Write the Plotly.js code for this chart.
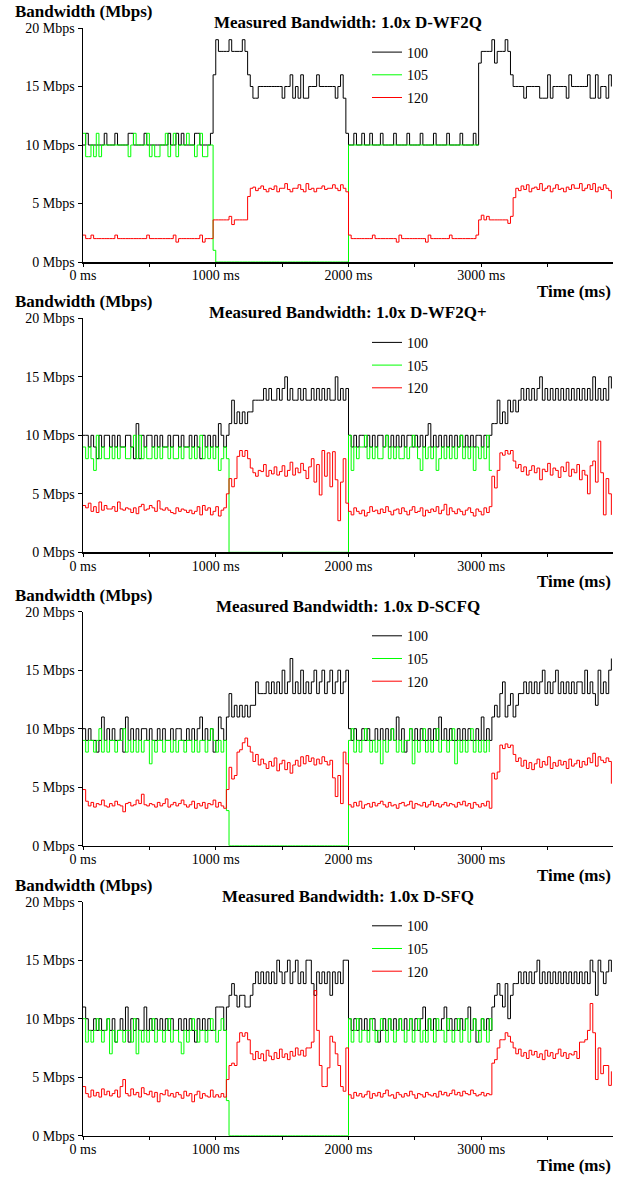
<!DOCTYPE html>
<html><head><meta charset="utf-8">
<script src="https://cdn.plot.ly/plotly-3.0.1.min.js"></script>
<style>html,body{margin:0;padding:0;background:#fff;} #chart{width:629px;height:1178px;}</style>
</head><body><div id="chart"></div>
<script>
// ---------------- data ----------------
const sampleIntervalMs = 20;
const flowNames = ['100', '105', '120'];
const panelTitles = [
  'Measured Bandwidth: 1.0x D-WF2Q',
  'Measured Bandwidth: 1.0x D-WF2Q+',
  'Measured Bandwidth: 1.0x D-SCFQ',
  'Measured Bandwidth: 1.0x D-SFQ'
];
const xTickValues = [0, 1000, 2000, 3000];
const xTickLabels = ['0 ms', '1000 ms', '2000 ms', '3000 ms'];
const xTickMarkValues = [0, 500, 1000, 1500, 2000, 2500, 3000, 3500];
const yTickValues = [0, 5, 10, 15, 20];
const yTickLabels = ['0 Mbps', '5 Mbps', '10 Mbps', '15 Mbps', '20 Mbps'];

// D-WF2Q
const wf2q_100 = [
  10,11,10,10,10,10,10,10,11,10, 10,10,11,10,10,10,10,11,11,10,
  10,10,10,11,10,10,10,10,10,10, 10,10,11,10,10,11,10,11,10,10,
  10,10,11,11,10,10,10,10,11,16, 19,18,18,18,18,19,18,18,18,18,
  19,18,16,15,14,14,15,15,15,15, 15,15,15,15,15,14,15,15,16,14,
  15,14,16,14,14,15,15,15,16,15, 15,15,15,15,15,14,15,16,14,11,
  10,10,11,10,10,11,10,10,11,10, 10,10,11,10,10,10,10,11,10,10,
  10,10,11,10,10,10,10,11,10,10, 10,10,11,10,10,10,10,11,10,10,
  10,10,11,10,10,10,10,11,10,17, 18,18,18,18,19,17,18,18,18,19,
  18,16,15,15,15,15,14,15,15,15, 15,15,14,14,14,16,14,15,15,15,
  15,15,14,16,15,15,15,15,15,15, 16,14,14,16,14,15,15,14,16,15
];
const wf2q_105 = [
  11,9,9,10,9,11,9,10,10,10, 10,10,10,10,10,10,10,9,10,11,
  10,10,10,10,11,9,10,9,9,10, 10,11,9,10,11,9,10,10,10,11,
  10,10,9,10,11,9,9,10,10,1, 0,0,0,0,0,0,0,0,0,0,
  0,0,0,0,0,0,0,0,0,0, 0,0,0,0,0,0,0,0,0,0,
  0,0,0,0,0,0,0,0,0,0, 0,0,0,0,0,0,0,0,0,0,
  10,10,10,10,10,10,10,10,10,10, 10,10,10,10,10,10,10,10,10,10,
  10,10,10,10,10,10,10,10,10,10, 10,10,10,10,10,10,10,10,10,10,
  10,10,10,10,10,10,10,10,10,10
];
const wf2q_120 = [
  2.3,2.0,2.0,2.3,2.0,2.0,2.0,2.0,2.0,2.0, 2.0,2.0,2.3,2.0,2.0,2.0,2.0,2.0,2.0,2.0,
  2.0,2.0,2.0,2.0,2.3,2.0,2.0,2.0,2.0,2.0, 2.0,2.0,2.0,2.0,2.3,1.7,2.0,2.0,2.0,2.0,
  2.0,2.0,2.0,2.0,2.3,1.7,2.0,2.0,2.0,3.6, 3.6,3.6,3.6,3.6,3.6,3.9,3.2,3.6,3.6,3.6,
  3.6,3.6,5.6,6.3,6.4,6.1,6.3,6.5,6.2,6.0, 6.3,6.2,6.5,6.0,6.3,6.3,6.7,6.2,6.0,6.3,
  6.3,6.6,6.2,6.0,6.7,6.2,6.3,6.0,6.3,6.3, 6.5,6.2,6.3,6.3,6.6,6.3,6.1,6.6,6.3,6.0,
  2.3,2.0,2.0,2.0,2.0,2.0,2.0,2.0,2.0,2.3, 2.0,2.0,2.0,2.0,2.0,2.0,2.0,2.0,1.7,2.3,
  2.0,2.0,2.0,2.0,2.0,2.0,2.0,2.0,2.0,1.7, 2.3,2.0,2.0,2.0,2.0,2.0,2.0,2.0,2.3,2.0,
  2.0,2.0,2.0,2.0,2.0,2.0,2.0,2.0,2.3,3.6, 4.0,3.6,3.9,3.6,3.6,3.6,3.6,3.6,3.6,3.6,
  3.3,3.9,5.5,6.3,6.1,6.5,6.2,6.6,6.0,6.3, 6.4,6.2,6.7,6.1,6.3,6.5,6.0,6.3,6.6,6.2,
  6.3,6.0,6.4,6.2,6.6,6.3,6.3,6.7,6.1,6.3, 6.6,6.2,6.7,6.0,6.4,6.2,6.6,6.3,6.1,5.4
];

// D-WF2Q+
const wf2qplus_100 = [
  10,10,9,10,9,8,10,9,10,10, 9,10,9,10,9,9,10,10,9,8,
  11,8,10,9,10,10,9,10,9,10, 9,9,10,9,10,10,9,10,9,9,
  10,9,10,9,8,10,9,10,9,10, 9,11,10,9,10,11,13,11,12,11,
  12,11,12,12,13,13,13,13,14,13, 14,13,13,14,13,14,15,13,14,13,
  13,14,13,14,13,13,14,13,14,13, 14,13,14,13,13,15,13,14,13,14,
  10,9,10,9,10,10,9,10,9,10, 9,10,10,9,10,9,10,9,10,9,
  10,9,10,10,9,10,9,10,9,10, 11,9,10,9,10,9,10,9,10,9,
  10,9,10,9,10,9,10,9,10,10, 9,10,9,10,11,11,13,11,12,11,
  13,12,13,12,13,14,13,14,13,14, 13,14,15,13,14,13,14,13,14,13,
  14,13,14,13,14,13,14,13,14,13, 14,13,15,13,14,13,14,13,15,14
];
const wf2qplus_105 = [
  9,8,9,8,7,10,8,9,8,8, 9,8,9,8,9,9,8,8,9,10,
  8,10,8,9,8,8,9,8,9,8, 9,9,8,9,8,8,9,8,9,9,
  8,9,8,9,10,8,9,8,9,8, 9,7,8,9,8,0,0,0,0,0,
  0,0,0,0,0,0,0,0,0,0, 0,0,0,0,0,0,0,0,0,0,
  0,0,0,0,0,0,0,0,0,0, 0,0,0,0,0,0,0,0,0,0,
  10,7,9,8,9,9,10,8,9,8, 9,8,8,9,10,8,9,8,9,8,
  8,9,8,9,10,9,8,7,9,8, 9,8,9,7,8,9,8,9,8,9,
  8,9,10,8,9,8,9,7,9,8, 9,8,10,7,7
];
const wf2qplus_120 = [
  4.0,3.8,4.2,3.5,3.9,3.4,4.3,3.6,4.0,3.7, 3.7,3.9,3.5,4.3,3.7,3.6,3.8,3.7,3.4,3.8,
  3.3,3.9,4.1,3.6,3.7,4.0,3.8,3.5,4.4,3.7, 3.6,3.8,3.6,3.4,3.3,3.8,3.5,3.7,3.6,3.4,
  3.6,3.3,3.5,3.9,3.2,4.0,3.6,3.8,3.2,3.5, 3.9,3.1,3.6,3.8,5.0,6.3,5.6,6.3,8.2,8.7,
  8.2,8.7,8.0,7.2,6.8,6.5,7.0,6.9,7.5,6.5, 7.0,6.7,7.3,6.6,6.9,7.4,6.5,7.0,7.7,6.6,
  7.2,6.8,7.6,7.0,6.3,7.3,8.0,6.0,7.5,4.9, 8.7,6.5,8.5,5.6,8.6,6.2,2.7,6.0,8.0,4.2,
  3.5,3.2,3.8,3.5,3.3,3.6,3.1,3.4,3.9,3.5, 3.6,3.3,3.7,3.4,3.9,3.5,3.2,3.6,3.7,3.3,
  3.8,3.5,3.2,3.6,3.9,3.4,3.5,3.8,3.1,3.6, 3.4,3.7,3.5,3.9,3.3,3.6,4.1,3.2,3.8,3.5,
  3.3,3.7,3.5,3.2,3.6,3.8,3.4,3.1,3.7,3.5, 3.2,3.8,3.4,3.9,6.5,5.5,7.0,8.5,8.3,8.7,
  8.4,8.7,7.8,7.2,7.5,6.9,7.3,6.6,7.0,7.4, 6.8,7.2,6.2,7.1,6.9,7.6,6.6,7.2,7.0,6.4,
  7.3,6.9,7.7,6.5,7.1,6.8,7.5,6.2,7.0,6.6, 5.0,7.4,7.8,6.0,9.5,6.8,3.2,6.3,5.0,3.2
];

// D-SCFQ
const scfq_100 = [
  10,9,10,9,9,8,9,11,9,10, 9,10,9,9,10,8,11,9,10,9,
  10,9,10,10,9,10,9,9,10,9, 10,9,9,10,9,10,10,9,9,10,
  9,10,9,10,11,9,10,9,10,8, 9,11,10,9,11,13,11,12,11,12,
  11,12,11,12,12,14,13,13,13,14, 13,14,13,14,13,15,13,14,16,13,
  14,13,15,13,14,13,14,15,13,14, 15,13,14,15,13,14,15,13,14,15,
  10,9,10,9,9,10,9,10,9,9, 10,9,10,9,10,9,10,9,11,9,
  10,8,9,10,9,10,9,10,9,9, 10,9,10,9,11,9,10,9,10,9,
  9,10,9,10,9,10,9,9,10,9, 11,9,10,9,11,12,11,13,14,11,
  12,13,11,12,13,13,14,13,14,13, 14,13,14,15,13,14,13,14,15,13,
  14,13,14,13,14,13,14,14,13,15, 13,14,13,12,15,13,14,13,15,16
];
const scfq_105 = [
  9,8,9,9,8,9,10,8,9,8, 9,9,8,9,9,10,8,9,8,9,
  8,9,8,9,9,7,9,8,9,9, 8,9,9,8,9,8,9,9,8,9,
  9,8,9,8,9,9,8,9,10,9, 8,9,8,9,3,0,0,0,0,0,
  0,0,0,0,0,0,0,0,0,0, 0,0,0,0,0,0,0,0,0,0,
  0,0,0,0,0,0,0,0,0,0, 0,0,0,0,0,0,0,0,0,0,
  9,10,8,9,8,9,10,9,8,9, 8,9,7,9,8,9,10,9,8,9,
  8,9,9,10,7,9,8,9,10,8, 9,8,9,10,8,9,9,8,9,10,
  7,9,8,9,8,9,10,8,9,8, 9,8,9,8
];
const scfq_120 = [
  4.8,3.8,3.4,3.7,3.3,3.6,3.5,3.9,3.4,3.3, 3.6,3.4,3.8,3.5,3.4,2.9,3.6,3.7,3.4,3.5,
  3.9,3.6,4.4,3.5,3.4,3.6,3.5,3.3,3.7,3.4, 3.6,4.0,3.3,3.5,3.7,3.4,3.6,3.9,3.5,3.3,
  3.5,3.8,3.2,3.6,3.4,3.7,3.2,3.6,3.5,3.9, 3.3,3.7,3.4,3.2,4.8,6.7,5.7,6.0,8.0,8.2,
  8.8,9.2,8.5,8.0,7.2,7.8,6.9,7.4,7.0,6.6, 7.2,6.8,7.5,6.4,7.0,7.3,6.5,7.1,6.2,6.9,
  7.3,6.8,7.6,7.0,7.7,7.2,7.5,6.9,7.4,7.0, 7.6,7.2,6.9,7.3,5.8,4.2,6.0,3.6,8.0,7.0,
  3.5,3.3,3.7,3.4,3.8,3.2,3.5,3.6,3.3,3.7, 3.4,3.6,3.8,3.5,3.3,3.7,3.4,3.5,3.2,3.6,
  3.7,3.4,3.5,3.8,3.2,3.6,3.5,3.4,3.7,3.3, 3.5,3.8,3.4,3.6,3.3,3.5,3.7,3.4,3.6,3.5,
  3.3,3.7,3.5,3.8,3.4,3.6,3.2,3.7,3.5,3.3, 3.6,3.4,3.8,3.2,6.2,5.7,6.3,8.6,8.3,8.7,
  8.4,8.6,7.8,7.2,7.5,6.8,7.3,6.6,7.1,6.5, 7.0,7.4,6.7,7.2,6.9,7.6,6.6,7.1,6.8,7.3,
  6.9,7.2,6.6,7.4,6.8,7.0,7.3,6.7,7.2,6.9, 7.5,7.1,7.9,6.8,7.6,7.3,7.1,7.5,7.2,5.3
];

// D-SFQ
const sfq_100 = [
  11,10,9,9,10,9,10,9,9,10, 9,10,8,9,10,9,11,8,10,9,
  10,9,9,11,9,10,9,10,9,10, 9,10,9,10,9,9,10,9,10,9,
  10,9,8,10,9,10,9,10,9,9, 11,11,11,9,11,12,13,12,11,12,
  12,11,11,12,13,14,13,14,13,14, 13,14,13,15,14,13,14,15,13,14,
  15,13,14,13,15,15,13,12,14,13, 14,13,14,12,14,13,14,13,15,15,
  10,9,10,9,10,9,10,9,10,10, 9,8,9,10,9,10,9,10,9,10,
  9,10,9,10,9,10,9,10,11,9, 10,9,10,9,9,10,11,9,10,9,
  10,9,10,9,10,11,9,10,8,9, 10,9,10,9,11,12,13,12,11,13,
  10,12,13,13,14,13,14,13,14,13, 14,15,13,14,13,14,13,14,13,14,
  13,14,13,14,13,14,13,14,13,14, 13,15,14,12,15,14,13,14,15,14
];
const sfq_105 = [
  10,8,9,8,9,10,9,8,9,10, 7,9,8,9,9,8,9,9,8,10,
  7,9,8,9,8,9,10,8,9,9, 8,9,10,8,9,9,8,7,9,8,
  9,10,9,8,9,9,8,9,10,9, 8,9,10,9,3,0,0,0,0,0,
  0,0,0,0,0,0,0,0,0,0, 0,0,0,0,0,0,0,0,0,0,
  0,0,0,0,0,0,0,0,0,0, 0,0,0,0,0,0,0,0,0,0,
  10,8,9,10,8,9,9,8,10,9, 8,9,10,9,8,10,9,8,9,10,
  9,8,9,10,8,9,10,8,9,8, 10,9,8,10,9,9,8,10,9,8,
  9,10,8,9,10,8,9,10,9,8, 10,9,8,10,9
];
const sfq_120 = [
  4.2,3.6,3.3,3.9,3.4,3.7,3.3,4.0,3.5,3.8, 3.4,3.6,3.9,3.3,4.2,4.8,3.6,3.4,4.0,3.5,
  3.7,3.3,4.1,3.6,3.5,3.8,3.3,3.7,2.9,3.6, 3.5,3.9,3.4,3.6,3.3,3.7,3.5,3.2,3.8,3.4,
  3.6,2.9,3.5,3.8,3.2,3.6,3.4,3.3,3.9,3.3, 3.5,3.3,3.6,3.3,4.8,6.0,6.2,6.0,8.0,8.8,
  8.5,8.8,8.2,7.0,6.5,7.2,6.6,7.0,6.4,7.3, 6.8,6.5,7.1,6.6,7.4,6.7,7.0,6.5,7.2,6.8,
  7.5,6.9,7.3,6.8,7.5,7.5,8.0,12.4,9.0,6.0, 4.2,4.2,5.8,8.5,8.0,7.0,6.0,4.2,3.8,7.5,
  3.5,3.2,3.7,3.4,3.6,3.3,3.5,3.8,3.2,3.6, 3.4,3.7,3.3,3.6,3.9,3.4,3.5,3.2,3.7,3.5,
  3.3,3.6,3.4,3.8,3.5,3.2,3.6,3.5,3.3,3.7, 3.5,3.4,3.6,3.3,3.8,3.5,3.7,3.4,3.6,3.9,
  3.5,3.7,3.4,3.8,3.6,3.5,3.9,3.6,3.4,3.5, 3.7,3.4,3.6,3.5,6.2,6.5,7.5,8.2,8.2,8.8,
  8.5,8.0,7.5,7.0,7.4,6.8,7.1,6.6,7.3,6.9, 7.2,6.7,7.0,6.5,7.3,6.8,7.1,6.6,7.0,7.4,
  6.8,7.1,6.6,7.0,6.9,7.2,6.6,8.0,8.0,8.2, 9.0,11.3,8.8,4.8,7.5,5.3,6.0,6.0,4.3,5.5
];

const panelSeries = [
  [wf2q_100, wf2q_105, wf2q_120],
  [wf2qplus_100, wf2qplus_105, wf2qplus_120],
  [scfq_100, scfq_105, scfq_120],
  [sfq_100, sfq_105, sfq_120]
];

// ---------------- styling / layout ----------------
const seriesColors = ['#000000', '#00ff00', '#ff0000'];
const W = 629, H = 1178;
const plotLeftPx = 83, plotRightPx = 612.7;
const panelTopPx = [28, 318.3, 611.7, 901.7];
const panelHeightPx = 234;
const serif = 'Liberation Serif, Times New Roman, serif';

const traces = [];
const layout = {
  width: W, height: H,
  margin: {l: 0, r: 0, t: 0, b: 0, pad: 0},
  paper_bgcolor: '#ffffff', plot_bgcolor: '#ffffff',
  font: {family: serif, size: 14, color: '#000000'},
  showlegend: true,
  annotations: []
};

panelSeries.forEach((series, p) => {
  const n = p + 1;
  const suf = n === 1 ? '' : String(n);
  const top = panelTopPx[p], bottom = top + panelHeightPx;
  layout['xaxis' + suf] = {
    domain: [plotLeftPx / W, plotRightPx / W],
    anchor: 'y' + suf,
    range: [0, 3990],
    tickmode: 'array', tickvals: xTickValues, ticktext: xTickLabels,
    ticks: '',
    minor: {tickmode: 'array', tickvals: xTickMarkValues, ticks: 'outside', ticklen: 3, tickwidth: 1, tickcolor: '#000'},
    showline: true, linecolor: '#000', linewidth: 1.5,
    showgrid: false, zeroline: false,
    tickfont: {family: serif, size: 14, color: '#000'},
    fixedrange: true
  };
  layout['yaxis' + suf] = {
    domain: [1 - bottom / H, 1 - top / H],
    anchor: 'x' + suf,
    range: [0, 20],
    tickmode: 'array', tickvals: yTickValues, ticktext: yTickLabels,
    ticks: 'outside', ticklen: 4, tickwidth: 1, tickcolor: '#000',
    showline: true, linecolor: '#000', linewidth: 1.5,
    showgrid: false, zeroline: false,
    tickfont: {family: serif, size: 14, color: '#000'},
    fixedrange: true
  };
  const legendTop = top + 8.5;
  layout['legend' + suf] = {
    x: 367 / W, y: 1 - legendTop / H, xanchor: 'left', yanchor: 'top',
    bgcolor: 'rgba(0,0,0,0)', borderwidth: 0,
    font: {family: serif, size: 14, color: '#000'},
    tracegroupgap: 1.5, traceorder: 'grouped'
  };
  series.forEach((vals, s) => {
    traces.push({
      type: 'scatter', mode: 'lines',
      x: vals.map((_, i) => i * sampleIntervalMs),
      y: vals,
      name: flowNames[s],
      legend: 'legend' + suf,
      legendgroup: 'p' + n + '_' + flowNames[s],
      xaxis: 'x' + suf, yaxis: 'y' + suf,
      line: {color: seriesColors[s], width: 1, shape: 'hv'},
      hoverinfo: 'skip'
    });
  });
  layout.annotations.push({
    text: '<b>Bandwidth (Mbps)</b>', showarrow: false,
    xref: 'paper', x: 13 / W, xanchor: 'left',
    yref: 'y' + suf + ' domain', y: 1, yanchor: 'middle', yshift: 16.5,
    font: {family: serif, size: 17, color: '#000'}
  });
  layout.annotations.push({
    text: '<b>' + panelTitles[p] + '</b>', showarrow: false,
    xref: 'paper', x: 347.5 / W, xanchor: 'center',
    yref: 'y' + suf + ' domain', y: 1, yanchor: 'middle', yshift: 5.5,
    font: {family: serif, size: 17, color: '#000'}
  });
  layout.annotations.push({
    text: '<b>Time (ms)</b>', showarrow: false,
    xref: 'x' + suf + ' domain', x: 1, xanchor: 'right',
    yref: 'y' + suf + ' domain', y: 0, yanchor: 'middle', yshift: -29.5,
    font: {family: serif, size: 17, color: '#000'}
  });
});

Plotly.newPlot('chart', traces, layout, {staticPlot: true, displayModeBar: false});
</script>
</body></html>
